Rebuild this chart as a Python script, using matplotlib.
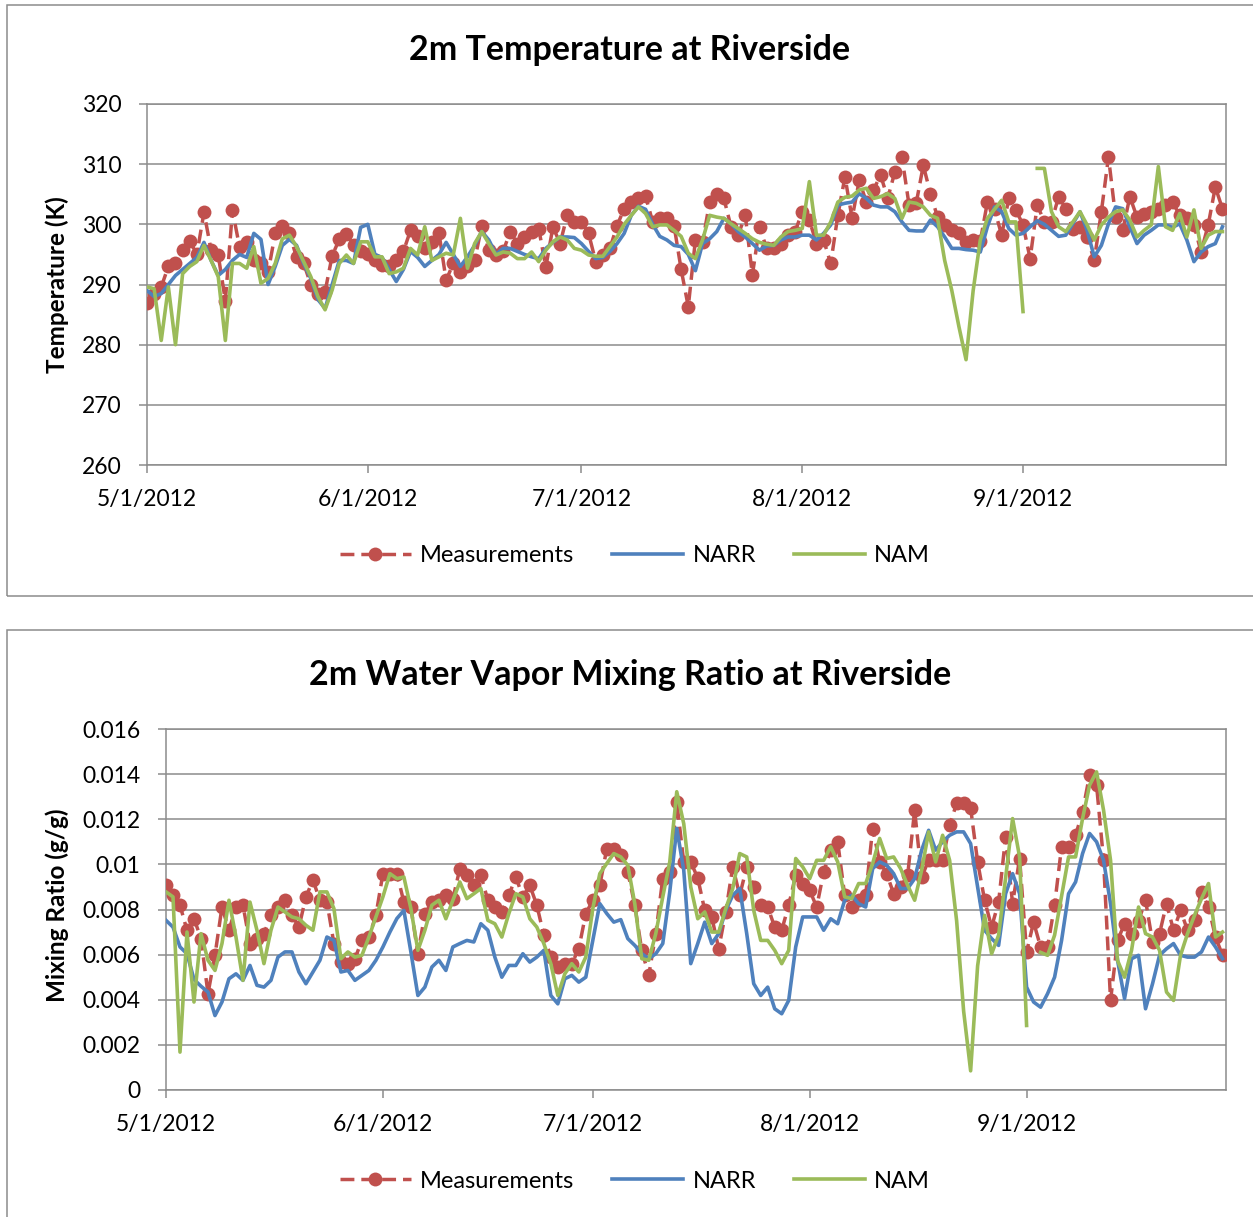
import numpy as np
import pandas as pd
import matplotlib
matplotlib.use("Agg")
import matplotlib.pyplot as plt
import matplotlib.dates as mdates
import matplotlib.ticker as ticker
from matplotlib.patches import Rectangle

plt.rcParams['font.family'] = ['Lato', 'DejaVu Sans']

# daily values, 5/1/2012 - 9/29/2012
dates = pd.date_range('2012-05-01', periods=152, freq='D')

# 2m temperature (K)
temp_meas = [
    287.0, 288.5, 289.6, 293.0, 293.6, 295.8, 297.3, 295.0, 302.0, 295.7,
    294.9, 287.3, 302.3, 296.2, 297.0, 294.0, 293.5, 292.0, 298.5, 299.8,
    298.5, 294.5, 293.5, 290.0, 288.5, 288.8, 294.8, 297.5, 298.4, 296.5,
    295.5, 295.0, 294.0, 293.2, 293.0, 294.0, 295.5, 299.0, 298.0, 296.0,
    297.0, 298.5, 290.7, 293.5, 292.0, 293.0, 294.0, 299.7, 295.7, 294.9,
    295.5, 298.8, 296.8, 297.9, 298.8, 299.3, 292.9, 299.6, 296.8, 301.5,
    300.4, 300.4, 298.5, 293.8, 294.9, 296.0, 299.8, 302.6, 303.7, 304.3,
    304.7, 300.4, 301.0, 301.0, 299.8, 292.5, 286.3, 297.4, 297.0, 303.7,
    305.1, 304.3, 299.6, 298.2, 301.5, 291.6, 299.6, 296.0, 296.0, 296.8,
    298.2, 298.8, 302.1, 300.7, 296.8, 297.4, 293.5, 301.5, 307.9, 301.0,
    307.3, 303.7, 305.7, 308.2, 304.3, 308.7, 311.2, 303.2, 303.5, 309.8,
    305.1, 301.2, 299.9, 299.0, 298.5, 297.0, 297.4, 297.2, 303.7, 302.5,
    298.2, 304.3, 302.4, 299.9, 294.3, 303.2, 300.4, 300.4, 304.6, 302.6,
    299.3, 299.6, 297.9, 294.0, 302.1, 311.2, 301.2, 299.0, 304.6, 301.2,
    301.8, 302.1, 302.6, 303.2, 303.7, 301.5, 301.0, 299.9, 295.4, 299.9,
    306.2, 302.6]
temp_narr = [
    289.0, 288.0, 288.5, 290.0, 291.5, 292.5, 293.5, 294.5, 297.0, 294.0,
    291.5, 292.5, 294.0, 295.0, 294.5, 298.5, 297.5, 290.0, 293.0, 296.5,
    297.5, 296.5, 293.5, 291.0, 287.5, 286.0, 290.0, 294.0, 294.0, 293.5,
    299.5, 300.0, 295.0, 294.5, 292.5, 290.5, 292.5, 295.5, 294.5, 293.0,
    294.0, 295.0, 297.0, 295.0, 293.0, 294.6, 296.5, 298.8, 297.4, 295.0,
    296.0, 296.0, 295.5, 295.0, 294.6, 294.3, 296.0, 297.0, 297.9, 297.9,
    297.8, 296.8, 295.5, 294.3, 294.5, 295.5, 296.8, 298.5, 301.5, 303.0,
    302.5, 300.0, 298.0, 297.4, 296.5, 296.3, 295.0, 292.3, 296.8, 297.6,
    298.8, 301.0, 300.1, 298.8, 297.9, 296.8, 295.7, 296.4, 296.5, 297.4,
    297.9, 297.9, 298.2, 298.2, 297.4, 298.5, 299.9, 303.2, 303.5, 303.7,
    305.1, 304.3, 303.2, 302.9, 302.9, 302.1, 300.4, 299.0, 298.9, 298.9,
    300.7, 299.6, 297.9, 296.0, 296.0, 295.8, 295.7, 295.4, 299.6, 302.9,
    302.1, 299.3, 298.2, 298.5, 299.6, 300.6, 300.0, 299.0, 298.0, 298.2,
    300.1, 302.1, 299.0, 294.6, 296.5, 300.1, 302.9, 302.6, 299.6, 296.8,
    298.2, 299.0, 299.9, 299.9, 299.5, 300.1, 297.4, 293.8, 295.4, 296.3,
    296.8, 299.6]
temp_nam = [
    289.6, 289.3, 280.7, 289.6, 280.0, 291.8, 293.0, 293.8, 296.5, 294.0,
    291.3, 280.7, 293.5, 293.5, 292.7, 296.3, 290.2, 291.0, 293.5, 297.6,
    298.2, 296.3, 293.8, 291.3, 288.0, 285.8, 289.1, 293.5, 294.9, 293.5,
    297.1, 297.1, 294.6, 294.6, 291.8, 292.1, 292.7, 296.0, 294.9, 299.6,
    294.0, 294.6, 295.2, 294.9, 301.0, 292.7, 296.8, 298.8, 296.8, 294.9,
    295.4, 295.2, 294.3, 294.3, 295.4, 293.8, 295.7, 297.1, 297.9, 297.4,
    296.0, 295.7, 294.9, 294.7, 294.7, 296.3, 297.9, 300.0, 301.5, 302.9,
    301.8, 299.6, 299.9, 299.9, 299.0, 298.0, 295.2, 294.3, 297.4, 301.5,
    301.2, 301.0, 300.1, 299.3, 298.5, 297.6, 297.0, 296.7, 296.5, 297.9,
    298.8, 299.0, 299.3, 307.1, 298.2, 298.2, 300.4, 303.7, 304.5, 304.7,
    305.7, 306.0, 304.3, 304.6, 305.1, 304.3, 301.0, 303.7, 303.5, 302.9,
    301.5, 301.0, 294.0, 289.0, 283.0, 277.5, 289.0, 297.4, 301.0, 302.5,
    304.0, 300.4, 300.4, 285.5, np.nan, 309.3, 309.3, 302.1, 299.6, 298.8,
    300.4, 302.1, 299.9, 297.4, 299.9, 301.2, 302.1, 302.4, 300.7, 297.9,
    299.0, 299.9, 309.6, 299.6, 299.0, 301.8, 297.9, 302.4, 296.0, 298.2,
    298.8, 298.8]

# 2m water vapor mixing ratio (g/g)
mix_meas = [
    0.00907, 0.00863, 0.00819, 0.00708, 0.00760, 0.00671, 0.00427, 0.00597, 0.00811, 0.00708,
    0.00811, 0.00819, 0.00649, 0.00670, 0.00693, 0.00774, 0.00811, 0.00841, 0.00774, 0.00722,
    0.00856, 0.00930, 0.00841, 0.00833, 0.00649, 0.00567, 0.00560, 0.00582, 0.00663, 0.00678,
    0.00774, 0.00959, 0.00959, 0.00959, 0.00833, 0.00811, 0.00604, 0.00780, 0.00833, 0.00840,
    0.00863, 0.00848, 0.00981, 0.00952, 0.00907, 0.00952, 0.00841, 0.00811, 0.00789, 0.00863,
    0.00944, 0.00856, 0.00907, 0.00819, 0.00686, 0.00589, 0.00545, 0.00560, 0.00560, 0.00626,
    0.00782, 0.00841, 0.00907, 0.01070, 0.01070, 0.01040, 0.00966, 0.00819, 0.00619, 0.00508,
    0.00693, 0.00937, 0.00966, 0.01277, 0.01010, 0.01010, 0.00940, 0.00796, 0.00767, 0.00626,
    0.00789, 0.00989, 0.00863, 0.00989, 0.00900, 0.00819, 0.00811, 0.00722, 0.00708, 0.00819,
    0.00952, 0.00915, 0.00885, 0.00811, 0.00966, 0.01063, 0.01100, 0.00863, 0.00811, 0.00840,
    0.00863, 0.01159, 0.01011, 0.00959, 0.00870, 0.00900, 0.00952, 0.01240, 0.00944, 0.01018,
    0.01020, 0.01018, 0.01174, 0.01270, 0.01270, 0.01250, 0.01011, 0.00841, 0.00722, 0.00833,
    0.01122, 0.00826, 0.01026, 0.00612, 0.00744, 0.00634, 0.00634, 0.00819, 0.01078, 0.01078,
    0.01129, 0.01233, 0.01396, 0.01351, 0.01018, 0.00397, 0.00663, 0.00737, 0.00693, 0.00750,
    0.00841, 0.00656, 0.00693, 0.00826, 0.00708, 0.00796, 0.00708, 0.00752, 0.00878, 0.00811,
    0.00678, 0.00597]
mix_narr = [
    0.00752, 0.00722, 0.00634, 0.00604, 0.00490, 0.00460, 0.00434, 0.00330, 0.00390, 0.00493,
    0.00515, 0.00486, 0.00552, 0.00464, 0.00456, 0.00486, 0.00589, 0.00612, 0.00612, 0.00523,
    0.00471, 0.00523, 0.00575, 0.00678, 0.00663, 0.00523, 0.00530, 0.00486, 0.00508, 0.00530,
    0.00575, 0.00634, 0.00700, 0.00760, 0.00796, 0.00612, 0.00419, 0.00456, 0.00545, 0.00575,
    0.00530, 0.00634, 0.00649, 0.00663, 0.00656, 0.00737, 0.00708, 0.00589, 0.00500, 0.00552,
    0.00552, 0.00604, 0.00567, 0.00589, 0.00619, 0.00419, 0.00382, 0.00493, 0.00508, 0.00478,
    0.00500, 0.00663, 0.00826, 0.00782, 0.00744, 0.00755, 0.00671, 0.00641, 0.00604, 0.00582,
    0.00604, 0.00649, 0.00878, 0.01160, 0.00974, 0.00560, 0.00649, 0.00744, 0.00649, 0.00693,
    0.00796, 0.00863, 0.00893, 0.00693, 0.00471, 0.00419, 0.00456, 0.00360, 0.00338, 0.00397,
    0.00634, 0.00767, 0.00767, 0.00767, 0.00708, 0.00759, 0.00737, 0.00841, 0.00863, 0.00826,
    0.00811, 0.00981, 0.01011, 0.00996, 0.00959, 0.00893, 0.00893, 0.00937, 0.01063, 0.01151,
    0.01063, 0.01100, 0.01129, 0.01144, 0.01144, 0.01092, 0.00900, 0.00708, 0.00671, 0.00641,
    0.00870, 0.00959, 0.00870, 0.00456, 0.00390, 0.00367, 0.00427, 0.00500, 0.00663, 0.00870,
    0.00922, 0.01048, 0.01137, 0.01100, 0.01018, 0.00826, 0.00575, 0.00405, 0.00582, 0.00597,
    0.00360, 0.00471, 0.00597, 0.00626, 0.00649, 0.00597, 0.00589, 0.00589, 0.00612, 0.00678,
    0.00634, 0.00582]
mix_nam = [
    0.00878, 0.00856, 0.00168, 0.00700, 0.00390, 0.00693, 0.00575, 0.00530, 0.00649, 0.00841,
    0.00678, 0.00486, 0.00833, 0.00708, 0.00560, 0.00708, 0.00811, 0.00789, 0.00767, 0.00759,
    0.00730, 0.00708, 0.00878, 0.00878, 0.00804, 0.00582, 0.00612, 0.00589, 0.00597, 0.00678,
    0.00767, 0.00856, 0.00959, 0.00937, 0.00944, 0.00804, 0.00619, 0.00708, 0.00819, 0.00841,
    0.00759, 0.00841, 0.00922, 0.00848, 0.00870, 0.00893, 0.00752, 0.00737, 0.00678, 0.00782,
    0.00870, 0.00856, 0.00759, 0.00722, 0.00649, 0.00560, 0.00419, 0.00515, 0.00560, 0.00523,
    0.00589, 0.00804, 0.00959, 0.01004, 0.01048, 0.01033, 0.00996, 0.00826, 0.00582, 0.00575,
    0.00693, 0.00856, 0.01011, 0.01322, 0.01180, 0.00900, 0.00759, 0.00789, 0.00700, 0.00700,
    0.00804, 0.00893, 0.01048, 0.01033, 0.00796, 0.00663, 0.00663, 0.00619, 0.00560, 0.00619,
    0.01026, 0.00989, 0.00937, 0.01018, 0.01018, 0.01078, 0.01011, 0.00856, 0.00848, 0.00915,
    0.00915, 0.01004, 0.01115, 0.01026, 0.01033, 0.00981, 0.00907, 0.00841, 0.00974, 0.01144,
    0.01011, 0.01129, 0.01018, 0.00750, 0.00350, 0.00085, 0.00550, 0.00774, 0.00604, 0.00686,
    0.00940, 0.01203, 0.01033, 0.00286, np.nan, 0.00610, 0.00597, 0.00686, 0.00860, 0.01033,
    0.01033, 0.01203, 0.01351, 0.01410, 0.01240, 0.01018, 0.00574, 0.00500, 0.00619, 0.00811,
    0.00693, 0.00678, 0.00619, 0.00434, 0.00397, 0.00597, 0.00693, 0.00774, 0.00848, 0.00915,
    0.00678, 0.00700]

RED = '#C0504D'
BLUE = '#4F81BD'
GREEN = '#9BBB59'
GRID = '#8C8C8C'
W, H = 1253, 1217

fig = plt.figure(figsize=(W / 100, H / 100), dpi=100)


def fx(px):
    return px / W


def fy(py):
    return 1 - py / H


# chart area outlines
for top, bot in [(5, 596), (630, 1240)]:
    fig.add_artist(Rectangle((fx(7), fy(bot)), 1.2, (bot - top) / H,
                             transform=fig.transFigure, fill=False,
                             edgecolor=GRID, linewidth=1.1))


def draw(rect, meas, narr, nam, ylim, yticks, yfmt, title, ylabel,
         title_y, ylabel_y, legend_y):
    ax = fig.add_axes(rect)
    ax.plot(dates, meas, color=RED, linestyle=(0, (4, 2)), linewidth=2.5,
            marker='o', markersize=10, markeredgewidth=0, label='Measurements',
            zorder=3)
    ax.plot(dates, narr, color=BLUE, linewidth=2.6, label='NARR', zorder=4)
    ax.plot(dates, nam, color=GREEN, linewidth=2.6, label='NAM', zorder=5)

    ax.set_xlim(mdates.date2num(dates[0]), mdates.date2num(dates[-1]) + 0.5)
    ax.set_ylim(*ylim)
    ax.set_yticks(yticks)
    ax.yaxis.set_major_formatter(ticker.FuncFormatter(yfmt))
    ax.xaxis.set_major_locator(mdates.MonthLocator())
    ax.xaxis.set_major_formatter(ticker.FuncFormatter(
        lambda v, _: '{d.month}/{d.day}/{d.year}'.format(d=mdates.num2date(v))))

    ax.grid(axis='y', color=GRID, linewidth=1.1)
    ax.set_axisbelow(True)
    for s in ax.spines.values():
        s.set_color(GRID)
        s.set_linewidth(1.1)
    ax.tick_params(axis='both', direction='out', length=6, width=1.1,
                   color=GRID, labelsize=16.5, labelcolor='black')
    ax.tick_params(axis='y', pad=12.5)
    ax.tick_params(axis='x', pad=11)

    fig.text(fx(630), fy(title_y), title, ha='center', va='center',
             fontsize=24.5, fontweight='bold')
    fig.text(fx(57), fy(ylabel_y), ylabel, ha='center', va='center',
             rotation=90, fontsize=17.5, fontweight='bold')
    fig.legend(*ax.get_legend_handles_labels(), loc='center',
               bbox_to_anchor=(fx(635), fy(legend_y)), ncol=3, frameon=False,
               fontsize=17, handlelength=3.0, handletextpad=0.4,
               columnspacing=1.6)
    return ax


draw([fx(147), fy(465), fx(1226) - fx(147), fy(104) - fy(465)],
     temp_meas, temp_narr, temp_nam, (260, 320), range(260, 321, 10),
     lambda v, _: f'{v:.0f}', '2m Temperature at Riverside',
     'Temperature (K)', 50, 285, 556)

draw([fx(166), fy(1090), fx(1226) - fx(166), fy(729) - fy(1090)],
     mix_meas, mix_narr, mix_nam, (0, 0.016), np.arange(0, 0.0161, 0.002),
     lambda v, _: '0' if abs(v) < 1e-9 else f'{v:.3f}'.rstrip('0'),
     '2m Water Vapor Mixing Ratio at Riverside', 'Mixing Ratio (g/g)',
     675, 905, 1181)

fig.savefig('out.png', dpi=100)
